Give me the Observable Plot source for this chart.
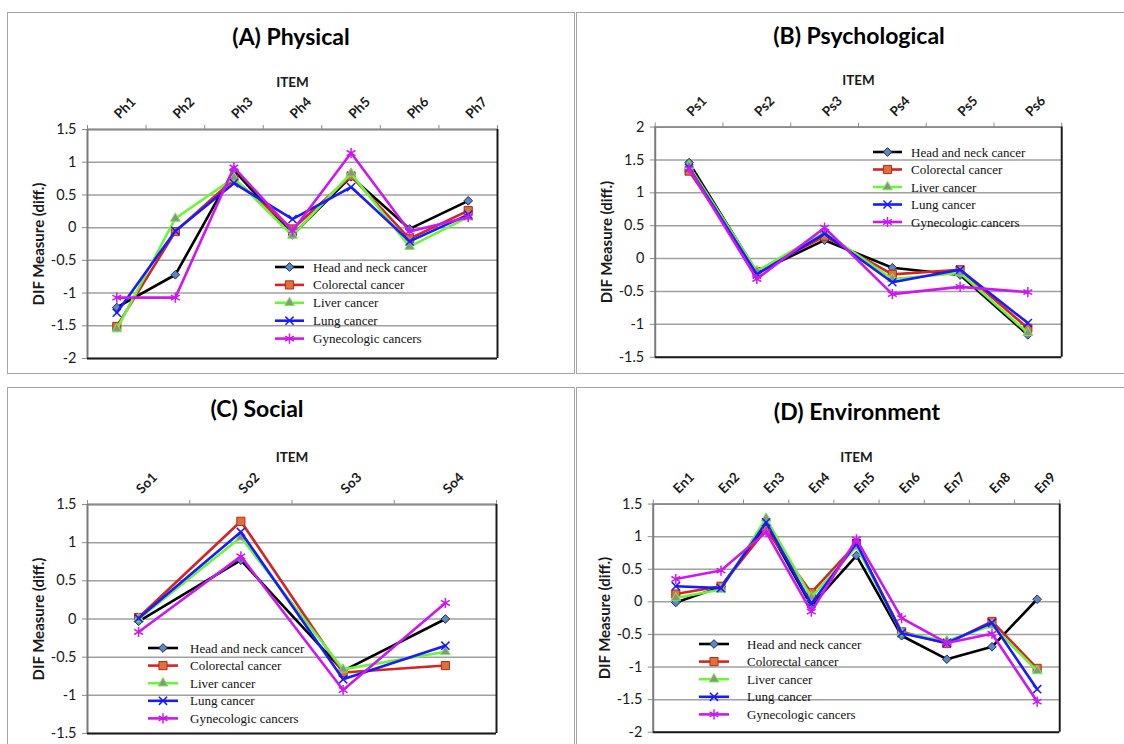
<!DOCTYPE html>
<html><head><meta charset="utf-8">
<script src="https://cdn.jsdelivr.net/npm/d3@7"></script>
<script src="https://cdn.jsdelivr.net/npm/@observablehq/plot@0.6"></script>
<style>
body{margin:0;background:#fff;}
#root{position:relative;width:1124px;height:744px;overflow:hidden;background:#fff;font-family:Lato,sans-serif;}
.panel{position:absolute;border:1.5px solid #a6a6a6;box-sizing:border-box;}
.plotwrap{position:absolute;}
.title{position:absolute;font:bold 23px Lato,sans-serif;transform:translate(-50%,-50%);white-space:nowrap;color:#000;}
svg g[aria-label="y-axis label"] text{font-weight:bold;font-size:15px;}
svg g[aria-label="x-axis label"] text{font-weight:bold;font-size:13.5px;}
.legend{position:absolute;left:0;top:0;overflow:visible;}
</style></head><body><div id="root"></div>
<script>
// ---- data ----
const groups = ["Head and neck cancer","Colorectal cancer","Liver cancer","Lung cancer","Gynecologic cancers"];

const physicalItems = ["Ph1","Ph2","Ph3","Ph4","Ph5","Ph6","Ph7"];
const physicalHead       = [-1.22,-0.72, 0.88,-0.11, 0.78,-0.02, 0.41];
const physicalColorectal = [-1.51,-0.06, 0.74,-0.02, 0.79,-0.17, 0.26];
const physicalLiver      = [-1.55, 0.14, 0.76,-0.12, 0.83,-0.29, 0.16];
const physicalLung       = [-1.30,-0.05, 0.68, 0.13, 0.62,-0.21, 0.20];
const physicalGyn        = [-1.07,-1.07, 0.92,-0.05, 1.14,-0.06, 0.16];

const psychItems = ["Ps1","Ps2","Ps3","Ps4","Ps5","Ps6"];
const psychHead       = [1.46,-0.21, 0.28,-0.14,-0.25,-1.16];
const psychColorectal = [1.33,-0.20, 0.34,-0.24,-0.17,-1.06];
const psychLiver      = [1.41,-0.19, 0.40,-0.31,-0.22,-1.13];
const psychLung       = [1.38,-0.24, 0.38,-0.36,-0.17,-0.98];
const psychGyn        = [1.37,-0.31, 0.47,-0.54,-0.43,-0.51];

const socialItems = ["So1","So2","So3","So4"];
const socialHead       = [-0.03, 0.77,-0.68, 0.00];
const socialColorectal = [ 0.02, 1.28,-0.70,-0.61];
const socialLiver      = [ 0.00, 1.07,-0.66,-0.43];
const socialLung       = [ 0.01, 1.14,-0.79,-0.35];
const socialGyn        = [-0.17, 0.82,-0.93, 0.21];

const envItems = ["En1","En2","En3","En4","En5","En6","En7","En8","En9"];
const envHead       = [-0.01, 0.23, 1.18,-0.06, 0.71,-0.52,-0.88,-0.69, 0.04];
const envColorectal = [ 0.12, 0.24, 1.11, 0.14, 0.89,-0.46,-0.64,-0.30,-1.02];
const envLiver      = [ 0.06, 0.19, 1.28, 0.07, 0.85,-0.48,-0.60,-0.36,-1.06];
const envLung       = [ 0.24, 0.21, 1.22,-0.03, 0.90,-0.48,-0.63,-0.32,-1.34];
const envGyn        = [ 0.35, 0.48, 1.07,-0.15, 0.96,-0.25,-0.63,-0.49,-1.53];

// ---- styles ----
const seriesStyle = [
  {color:"#000000", symbol:"diamond2", d3sym:d3.symbolDiamond2, r:3.9, fill:"#5f86c4", stroke:"#1b2a4a", sw:1},
  {color:"#d42424", symbol:"square",   d3sym:d3.symbolSquare,   r:4.6, fill:"#d8743a", stroke:"#c02418", sw:1},
  {color:"#6cf43a", symbol:"triangle", d3sym:d3.symbolTriangle, r:3.6, fill:"#8f8f8f", stroke:"#6cf43a", sw:1},
  {color:"#1a1aff", symbol:"times",    d3sym:d3.symbolTimes,    r:3.8, fill:"none",    stroke:"#1a1aff", sw:1.5},
  {color:"#cc18f0", symbol:"asterisk", d3sym:d3.symbolAsterisk, r:4.8, fill:"none",    stroke:"#cc18f0", sw:1.5}
];

const panels = [
  {title:"(A) Physical", items:physicalItems, values:[physicalHead,physicalColorectal,physicalLiver,physicalLung,physicalGyn],
   yDomain:[-2,1.5], box:[7,12,568,362], margins:[117,78,16,80], titlePos:[291,36],
   legend:{x0:275,x1:304,tx:313,y0:267,dy:17.9}},
  {title:"(B) Psychological", items:psychItems, values:[psychHead,psychColorectal,psychLiver,psychLung,psychGyn],
   yDomain:[-1.5,2], box:[576,12,550,362], margins:[115,63,16,79], titlePos:[859,35],
   legend:{x0:873,x1:902,tx:911,y0:152,dy:17.5}},
  {title:"(C) Social", items:socialItems, values:[socialHead,socialColorectal,socialLiver,socialLung,socialGyn],
   yDomain:[-1.5,1.5], box:[7,387,568,362], margins:[117,79,16,80], titlePos:[257,408],
   legend:{x0:148,x1:178,tx:190,y0:648,dy:17.6}},
  {title:"(D) Environment", items:envItems, values:[envHead,envColorectal,envLiver,envLung,envGyn],
   yDomain:[-2,1.5], box:[576,387,550,362], margins:[117,65,16,77], titlePos:[857,411],
   legend:{x0:699,x1:729,tx:747,y0:644,dy:17.6}}
];

const root = document.getElementById("root");

function makePlot(p) {
  const n = p.items.length;
  const [bx, by, bw, bh] = p.box;
  const [mt, mr, mb, ml] = p.margins;
  const ticks = d3.range(Math.round((p.yDomain[1]-p.yDomain[0])/0.5)+1).map(i => p.yDomain[0] + i*0.5);
  const marks = [
    Plot.ruleY(ticks, {stroke:"#a0a0a0", strokeWidth:1.5}),
    Plot.axisY({ticks, tickSize:5, tickPadding:6, stroke:"#8c8c8c", fill:"#1a1a1a", fontSize:14.5,
      tickFormat: d => String(d), label:"DIF Measure (diff.)", labelAnchor:"center", labelArrow:"none", labelOffset:54}),
    Plot.axisX({anchor:"top", ticks:d3.range(n+1), tickSize:5, stroke:"#8c8c8c", tickFormat:() => "", label:null}),
    Plot.axisX({anchor:"top", ticks:d3.range(n).map(i => i+0.5), tickSize:0, tickPadding:13, tickRotate:-45,
      textAnchor:"start", fill:"#1a1a1a", fontSize:13.5, fontWeight:"bold", tickFormat: v => p.items[Math.floor(v)],
      label:"ITEM", labelAnchor:"center", labelArrow:"none", labelOffset:52}),
    Plot.ruleY([p.yDomain[1]], {stroke:"#8c8c8c", strokeWidth:1.8}),
    Plot.ruleX([0], {stroke:"#7a7a7a", strokeWidth:2}),
    Plot.ruleX([n], {stroke:"#1a1a1a", strokeWidth:2}),
    Plot.ruleY([p.yDomain[0]], {stroke:"#1a1a1a", strokeWidth:2})
  ];
  seriesStyle.forEach((s, k) => {
    const data = p.items.map((item, i) => ({item, x:i+0.5, y:p.values[k][i]}));
    marks.push(Plot.line(data, {x:"x", y:"y", stroke:s.color, strokeWidth:2.6}));
    marks.push(Plot.dot(data, {x:"x", y:"y", symbol:s.symbol, r:s.r, fill:s.fill, stroke:s.stroke, strokeWidth:s.sw}));
  });
  const chart = Plot.plot({
    width:bw, height:bh, marginTop:mt, marginRight:mr, marginBottom:mb, marginLeft:ml,
    style:{fontFamily:"Lato, sans-serif", background:"transparent", overflow:"visible"},
    x:{domain:[0,n]}, y:{domain:p.yDomain},
    marks
  });
  const wrap = document.createElement("div");
  wrap.className = "plotwrap";
  wrap.style.left = bx + "px"; wrap.style.top = by + "px";
  wrap.appendChild(chart);
  root.appendChild(wrap);

  const box = document.createElement("div");
  box.className = "panel";
  box.style.left = bx + "px"; box.style.top = by + "px";
  box.style.width = bw + "px"; box.style.height = bh + "px";
  root.appendChild(box);

  const t = document.createElement("div");
  t.className = "title";
  t.textContent = p.title;
  t.style.left = p.titlePos[0] + "px"; t.style.top = p.titlePos[1] + "px";
  root.appendChild(t);
}

panels.forEach(makePlot);

// legends (one svg overlay)
const svg = d3.select(root).append("svg").attr("class","legend").attr("width",1124).attr("height",744);
panels.forEach(p => {
  const L = p.legend;
  groups.forEach((g, k) => {
    const s = seriesStyle[k];
    const y = L.y0 + k*L.dy;
    svg.append("line").attr("x1",L.x0).attr("x2",L.x1).attr("y1",y).attr("y2",y)
      .attr("stroke",s.color).attr("stroke-width",2.6);
    svg.append("path").attr("d", d3.symbol(s.d3sym, s.r*s.r*Math.PI)())
      .attr("transform",`translate(${(L.x0+L.x1)/2},${y})`)
      .attr("fill",s.fill).attr("stroke",s.stroke).attr("stroke-width",s.sw);
    svg.append("text").attr("x",L.tx).attr("y",y).attr("dy","0.35em")
      .attr("font-family","'Liberation Serif', serif").attr("font-size",13).attr("fill","#111")
      .text(g);
  });
});
</script></body></html>
